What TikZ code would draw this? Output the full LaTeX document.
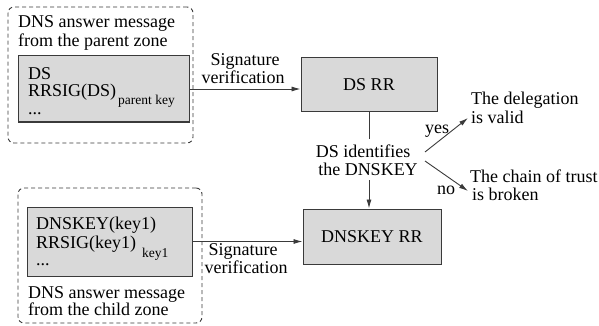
\documentclass[tikz,border=0pt]{standalone}
\usepackage{fontspec}
\setmainfont{Liberation Serif}
\newfontfamily\timesf{Liberation Serif}
\usetikzlibrary{arrows.meta}
\definecolor{boxgray}{HTML}{D9D9D9}
\definecolor{edgegray}{HTML}{3A3A3A}
\newcommand{\bigf}{\timesf\fontsize{18}{18}\selectfont}
\newcommand{\subf}{\timesf\fontsize{13.5}{13.5}\selectfont}
\begin{document}
\begin{tikzpicture}[x=1pt,y=-1pt,
  txt/.style={inner sep=0pt,font=\bigf,anchor=base west},
  ctxt/.style={inner sep=0pt,font=\bigf,anchor=base},
  graybox/.style={draw=edgegray,fill=boxgray,line width=1pt,inner sep=0pt,minimum width=#1},
  msgbox/.style={draw=edgegray,dash pattern=on 4pt off 3pt,line width=0.9pt,rounded corners=6pt,inner sep=0pt},
  arr/.style={draw=edgegray,line width=0.9pt,-{Latex[length=9pt,width=5pt]}},
  plain/.style={draw=edgegray,line width=0.9pt}]
\useasboundingbox (0,0) rectangle (599,326);
% message boxes
\node[msgbox,minimum width=185pt,minimum height=136pt] (topmsg) at (100.5,75) {};
\node[msgbox,minimum width=184pt,minimum height=135pt] (botmsg) at (110,255.5) {};
% gray content boxes
\node[graybox=171pt,minimum height=66pt] (topgray) at (103.5,89) {};
\node[graybox=165pt,minimum height=69pt] (botgray) at (109.5,241.5) {};
% RR boxes
\node[graybox=136pt,minimum height=54pt,font=\bigf] (dsrr) at (369,85) {DS RR};
\node[graybox=138pt,minimum height=55pt,font=\bigf] (dnskeyrr) at (372,236.5) {DNSKEY RR};
% top message texts
\node[txt] (t1) at (18,28) {DNS answer message};
\node[txt] (t2) at (18,47) {from the parent zone};
\node[txt] (t3) at (28,80) {DS};
\node[txt] (t4) at (28,97) {RRSIG(DS)\hspace{2pt}\raisebox{-8pt}{\subf parent key}};
\node[txt] (t5) at (28,114) {...};
% bottom message texts
\node[txt] (b1) at (36,229) {DNSKEY(key1)};
\node[txt] (b2) at (36,248) {RRSIG(key1)\hspace{6pt}\raisebox{-9pt}{\subf key1}};
\node[txt] (b3) at (36,265) {...};
\node[txt] (b4) at (28,298) {DNS answer message};
\node[txt] (b5) at (28,315) {from the child zone};
% signature verification arrows
\draw[arr] (topgray.east) -- (topgray.east -| dsrr.west);
\node[ctxt] (s1) at (245,66) {Signature};
\node[ctxt] (s2) at (243,84) {verification};
\draw[arr] (botgray.east) -- (botgray.east -| dnskeyrr.west);
\node[ctxt] (s3) at (243,255) {Signature};
\node[ctxt] (s4) at (246,273) {verification};
% decision
\node[ctxt] (d1) at (363,157) {DS identifies};
\node[ctxt] (d2) at (368,175) {the DNSKEY};
\coordinate (vtop) at (369,139);
\coordinate (vbot) at (369,180);
\draw[plain] (dsrr.south) -- (vtop);
\draw[arr] (vbot) -- (vbot |- dnskeyrr.north);
\coordinate (yesA) at (425,152);
\coordinate (yesB) at (468,118);
\coordinate (noA) at (425,161);
\coordinate (noB) at (468,191);
\draw[arr] (yesA) -- (yesB);
\draw[arr] (noA) -- (noB);
\node[txt] (yes) at (425,133) {yes};
\node[txt] (no) at (437,194) {no};
\node[txt] (r1) at (471,105) {The delegation};
\node[txt] (r2) at (471,124) {is valid};
\node[txt] (r3) at (470,182) {The chain of trust};
\node[txt] (r4) at (472,200) {is broken};
\end{tikzpicture}
\end{document}
